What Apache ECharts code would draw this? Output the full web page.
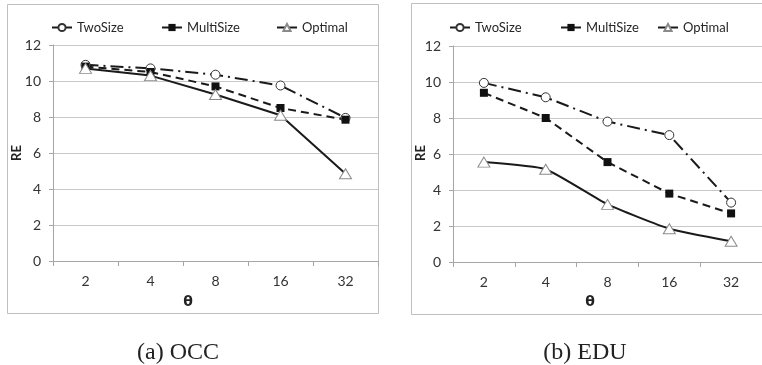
<!DOCTYPE html>
<html>
<head>
<meta charset="utf-8">
<script src="https://cdn.jsdelivr.net/npm/echarts@6/dist/echarts.min.js"></script>
<style>
  html, body { margin: 0; padding: 0; background: #fff; }
  #main { width: 762px; height: 365px; }
</style>
</head>
<body>
<div id="main"></div>
<script>
// data
var thetas = ['2', '4', '8', '16', '32'];
var yTicks = [0, 2, 4, 6, 8, 10, 12];

var occTwoSize   = [10.9, 10.7, 10.35, 9.75, 7.95];
var occMultiSize = [10.8, 10.5, 9.7, 8.5, 7.85];
var occOptimal   = [10.7, 10.3, 9.25, 8.1, 4.85];

var eduTwoSize   = [9.95, 9.15, 7.8, 7.05, 3.3];
var eduMultiSize = [9.4, 8.0, 5.55, 3.8, 2.7];
var eduOptimal   = [5.55, 5.15, 3.2, 1.85, 1.15];

var captions = ['(a) OCC', '(b) EDU'];

var txt = '#333';
var font = 'Lato';

function xAx(i){
  return {
    type: 'category', gridIndex: i, data: thetas, boundaryGap: true,
    axisLine: { lineStyle: { color: '#a6a6a6', width: 1 } },
    axisTick: { show: true, length: 5, lineStyle: { color: '#a6a6a6' } },
    axisLabel: { color: txt, fontSize: 14, fontFamily: font, margin: 13 }
  };
}
function yAx(i){
  return {
    type: 'value', gridIndex: i, min: yTicks[0], max: yTicks[yTicks.length-1], interval: 2,
    axisLine: { show: true, lineStyle: { color: '#a6a6a6', width: 1 } },
    axisTick: { show: true, length: 4, lineStyle: { color: '#a6a6a6' } },
    axisLabel: { color: txt, fontSize: 14, fontFamily: font, margin: 12 },
    splitLine: { lineStyle: { color: '#c8c8c8', width: 1 } }
  };
}

function ser(name, data, i, kind, smooth){
  var s = {
    name: name, type: 'line', data: data, xAxisIndex: i, yAxisIndex: i,
    smooth: smooth || false, animation: false, z: 3
  };
  if(kind == 'two'){
    s.symbol = 'circle'; s.symbolSize = 9;
    s.lineStyle = { color: '#1a1a1a', width: 2, type: [13, 5, 2, 5] };
    s.itemStyle = { color: '#fff', borderColor: '#333', borderWidth: 1 };
  } else if(kind == 'multi'){
    s.symbol = 'rect'; s.symbolSize = 8;
    s.lineStyle = { color: '#1a1a1a', width: 2, type: [8, 5] };
    s.itemStyle = { color: '#111', borderColor: '#111', borderWidth: 0 };
  } else {
    s.symbol = 'triangle'; s.symbolSize = [12, 10];
    s.lineStyle = { color: '#1a1a1a', width: 2, type: 'solid' };
    s.itemStyle = { color: '#fff', borderColor: '#8a8a8a', borderWidth: 1 };
  }
  return s;
}

function leg(name, left){
  return {
    data: [name], left: left, top: 16, itemWidth: 20, itemHeight: 9, itemGap: 4,
    selectedMode: false,
    lineStyle: { type: 'solid' },
    textStyle: { color: '#262626', fontSize: 13, fontFamily: font }
  };
}

var chart = echarts.init(document.getElementById('main'));
var option = {
  animation: false,
  backgroundColor: '#fff',
  grid: [
    { left: 53, top: 45, width: 325, height: 216 },
    { left: 453, top: 46, width: 319, height: 216 }
  ],
  xAxis: [xAx(0), xAx(1)],
  yAxis: [yAx(0), yAx(1)],
  legend: [
    leg('TwoSize', 46), leg('MultiSize', 156), leg('Optimal', 271),
    leg('TwoSize', 444), leg('MultiSize', 555), leg('Optimal', 652)
  ],
  series: [
    ser('TwoSize', occTwoSize, 0, 'two'),
    ser('MultiSize', occMultiSize, 0, 'multi'),
    ser('Optimal', occOptimal, 0, 'opt'),
    ser('TwoSize', eduTwoSize, 1, 'two'),
    ser('MultiSize', eduMultiSize, 1, 'multi'),
    ser('Optimal', eduOptimal, 1, 'opt', 0.15)
  ],
  graphic: [
    { type: 'rect', shape: { x: 7.5, y: 4.5, width: 371, height: 309 },
      style: { fill: null, stroke: '#bfbfbf', lineWidth: 1 }, z: 0 },
    { type: 'rect', shape: { x: 411.5, y: 3.5, width: 372, height: 311 },
      style: { fill: null, stroke: '#bfbfbf', lineWidth: 1 }, z: 0 },
    { type: 'text', x: 17, y: 153, rotation: Math.PI / 2,
      style: { text: 'RE', fill: '#222', font: 'bold 13px ' + font, align: 'center', verticalAlign: 'middle' } },
    { type: 'text', x: 421, y: 153, rotation: Math.PI / 2,
      style: { text: 'RE', fill: '#222', font: 'bold 13px ' + font, align: 'center', verticalAlign: 'middle' } },
    { type: 'text', x: 188, y: 302,
      style: { text: 'θ', fill: '#222', font: 'bold 14px "DejaVu Sans"', align: 'center', verticalAlign: 'middle' } },
    { type: 'text', x: 590, y: 302,
      style: { text: 'θ', fill: '#222', font: 'bold 14px "DejaVu Sans"', align: 'center', verticalAlign: 'middle' } },
    { type: 'text', x: 178, y: 353,
      style: { text: captions[0], fill: '#222', font: '24px "Liberation Serif"', align: 'center', verticalAlign: 'middle' } },
    { type: 'text', x: 585, y: 353,
      style: { text: captions[1], fill: '#222', font: '24px "Liberation Serif"', align: 'center', verticalAlign: 'middle' } }
  ]
};
chart.setOption(option);
</script>
</body>
</html>
